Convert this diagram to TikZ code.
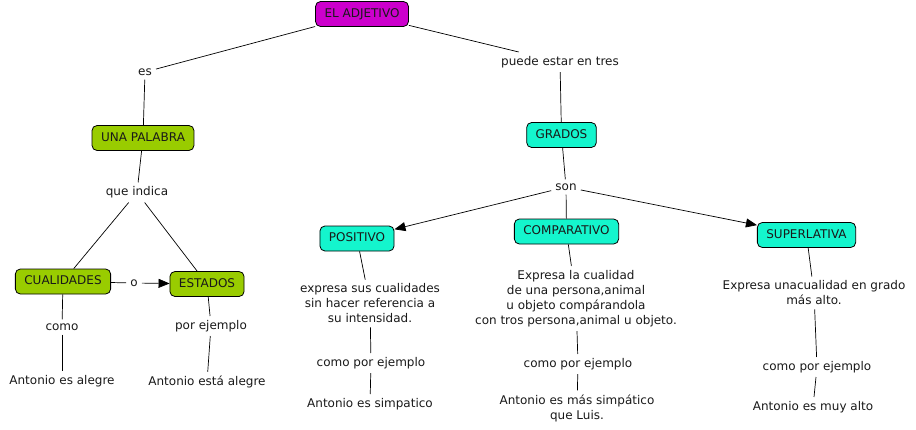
\documentclass[tikz,border=0pt]{standalone}
\usepackage{fontspec}
\setmainfont{DejaVu Sans}
\usetikzlibrary{arrows.meta}
\definecolor{magbox}{RGB}{204,0,204}
\definecolor{grnbox}{RGB}{153,204,0}
\definecolor{cybox}{RGB}{20,245,205}
\definecolor{txt}{RGB}{25,25,25}
\tikzset{
  concept/.style={draw=black, line width=0.8pt, rounded corners=5pt, inner xsep=9pt,
    text height=9pt, text depth=2.5pt, minimum height=25pt, text=txt, font=\fontsize{12}{15}\selectfont},
  magc/.style={concept, fill=magbox},
  grnc/.style={concept, fill=grnbox},
  cyc/.style={concept, fill=cybox},
  lbl/.style={inner sep=4pt, text=txt, align=center, font=\fontsize{12}{15}\selectfont},
  conn/.style={draw=black, line width=0.7pt},
  arr/.style={conn, -{Triangle[length=11pt,width=9pt]}}
}
\begin{document}
\begin{tikzpicture}[x=1pt,y=-1pt]
\useasboundingbox (0,0) rectangle (916,429);
% concepts
\node[magc] (adj) at (362,14) {EL ADJETIVO};
\node[grnc] (una) at (143,138) {UNA PALABRA};
\node[grnc] (cual) at (63,281.5) {CUALIDADES};
\node[grnc] (est) at (207,284) {ESTADOS};
\node[cyc] (gra) at (561.5,135) {GRADOS};
\node[cyc] (pos) at (357,238.5) {POSITIVO};
\node[cyc] (comp) at (566.5,231.5) {COMPARATIVO};
\node[cyc] (sup) at (806.5,235) {SUPERLATIVA};
% labels
\node[lbl] (es) at (145,72) {es};
\node[lbl] (puede) at (560,62) {puede estar en tres};
\node[lbl] (que) at (137,192.5) {que indica};
\node[lbl] (o) at (134,283) {o};
\node[lbl] (como1) at (62,327) {como};
\node[lbl] (por1) at (211,326) {por ejemplo};
\node[lbl] (ant1) at (62,381) {Antonio es alegre};
\node[lbl] (ant2) at (207,382) {Antonio está alegre};
\node[lbl] (son) at (566,187) {son};
\node[lbl] (dpos) at (370,303.5) {expresa sus cualidades\\sin hacer referencia a\\su intensidad.};
\node[lbl] (dcomp) at (576,298.5) {Expresa la cualidad\\de una persona,animal\\u objeto compárandola\\con tros persona,animal u objeto.};
\node[lbl] (dsup) at (814,293) {Expresa unacualidad en grado\\más alto.};
\node[lbl] (cpe1) at (371,363) {como por ejemplo};
\node[lbl] (ant3) at (370,404) {Antonio es simpatico};
\node[lbl] (cpe2) at (578,364) {como por ejemplo};
\node[lbl] (ant4) at (577,408) {Antonio es más simpático\\que Luis.};
\node[lbl] (cpe3) at (817,367) {como por ejemplo};
\node[lbl] (ant5) at (813,407) {Antonio es muy alto};
% connectors
\draw[conn] (adj) -- (es);
\draw[conn] (adj) -- (puede);
\draw[conn] (es) -- (una);
\draw[conn] (puede) -- (gra);
\draw[conn] (una) -- (que);
\draw[conn] (que) -- (cual);
\draw[conn] (que) -- (est);
\draw[conn] (cual) -- (o);
\draw[arr] (o) -- (est);
\draw[conn] (cual) -- (como1);
\draw[conn] (como1) -- (ant1);
\draw[conn] (est) -- (por1);
\draw[conn] (por1) -- (ant2);
\draw[conn] (gra) -- (son);
\draw[arr] (son) -- (pos);
\draw[conn] (son) -- (comp);
\draw[arr] (son) -- (sup);
\draw[conn] (pos) -- (dpos);
\draw[conn] (dpos) -- (cpe1);
\draw[conn] (cpe1) -- (ant3);
\draw[conn] (comp) -- (dcomp);
\draw[conn] (dcomp) -- (cpe2);
\draw[conn] (cpe2) -- (ant4);
\draw[conn] (sup) -- (dsup);
\draw[conn] (dsup) -- (cpe3);
\draw[conn] (cpe3) -- (ant5);
\end{tikzpicture}
\end{document}
